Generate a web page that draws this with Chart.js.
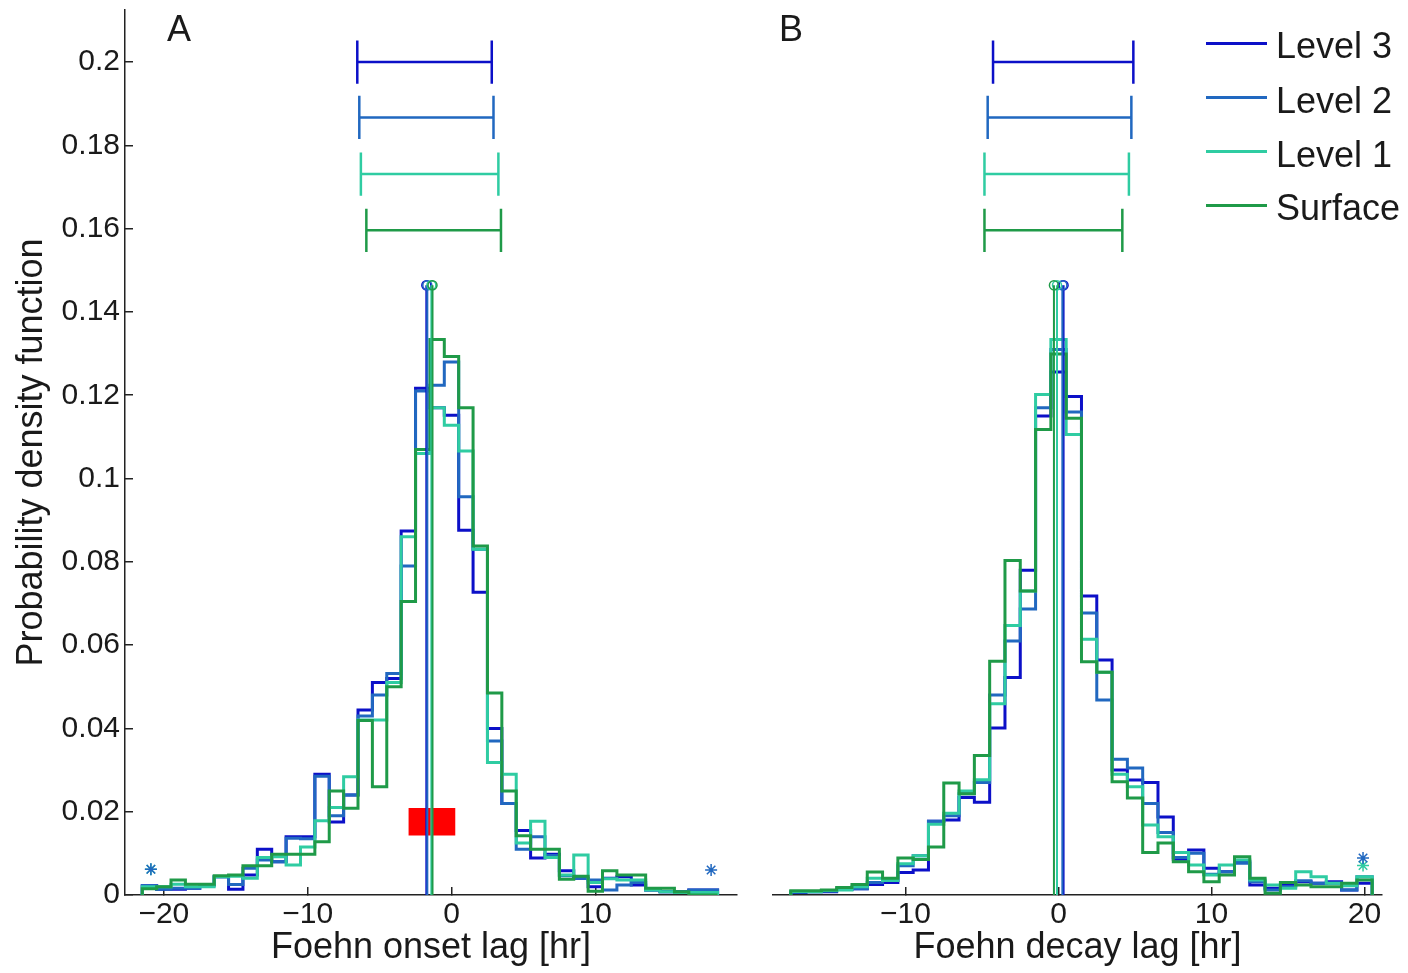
<!DOCTYPE html>
<html>
<head>
<meta charset="utf-8">
<script src="https://cdn.jsdelivr.net/npm/chart.js@4.4.1/dist/chart.umd.min.js"></script>
<style>
  html, body { margin: 0; padding: 0; background: #fff; }
  body {
    width: 1408px; height: 973px; position: relative; overflow: hidden;
    font-family: "Liberation Sans", Arial, Helvetica, sans-serif;
  }
  .panel { position: absolute; top: 0; height: 973px; }
  #panelA { left: 0; width: 760px; }
  #panelB { left: 760px; width: 648px; }
  #legend { position: absolute; left: 1206px; top: 0; }
  .legend-item {
    position: absolute; left: 0; height: 44px; display: flex; align-items: center;
    white-space: nowrap; font-size: 36px; color: #1a1a1a;
  }
  .legend-swatch { width: 61px; height: 3px; margin-right: 9px; }
  .legend-text { position: relative; top: 3px; }
</style>
</head>
<body>
<div class="panel" id="panelA"><canvas id="onsetChart"></canvas></div>
<div class="panel" id="panelB"><canvas id="decayChart"></canvas></div>
<div id="legend"></div>

<script>
/* ========= DATA ========= */
const SERIES = ["Level 3", "Level 2", "Level 1", "Surface"];
const COLORS = ["#0c10c8", "#2168c0", "#2fcca2", "#1f9a48"];
const BIN = 1;

// A: onset lag histogram (bin centres in hours)
const onsetCenters = [-21, -20, -19, -18, -17, -16, -15, -14, -13, -12, -11, -10, -9, -8, -7, -6, -5, -4, -3, -2,
  -1, 0, 1, 2, 3, 4, 5, 6, 7, 8, 9, 10, 11, 12, 13, 14, 15, 16, 17, 18];
const onsetL3 = [0.0022, 0.0014, 0.0014, 0.0016, 0.0024, 0.0044, 0.0014, 0.0048, 0.011, 0.008, 0.014, 0.014, 0.029, 0.0175, 0.024, 0.0444, 0.051, 0.052, 0.0874, 0.1217,
  0.117, 0.1152, 0.0876, 0.0727, 0.040, 0.022, 0.0155, 0.0089, 0.0098, 0.0058, 0.004, 0.002, 0.004, 0.0044, 0.0024, 0.0012, 0.0008, 0.0008, 0.0012, 0.0012];
const onsetL2 = [0.0022, 0.0014, 0.0016, 0.0016, 0.0024, 0.0044, 0.0025, 0.0064, 0.0084, 0.008, 0.0136, 0.0135, 0.0285, 0.019, 0.024, 0.043, 0.048, 0.0532, 0.079, 0.121,
  0.1224, 0.128, 0.0956, 0.083, 0.037, 0.022, 0.011, 0.014, 0.0095, 0.0046, 0.004, 0.0036, 0.0012, 0.0024, 0.003, 0.0012, 0.0008, 0.0008, 0.0012, 0.0012];
const onsetL1 = [0.002, 0.002, 0.0026, 0.002, 0.002, 0.0044, 0.0045, 0.004, 0.009, 0.0092, 0.0072, 0.0115, 0.0178, 0.021, 0.0284, 0.042, 0.042, 0.051, 0.086, 0.106,
  0.117, 0.1128, 0.1066, 0.083, 0.0318, 0.029, 0.0125, 0.0177, 0.009, 0.0048, 0.0096, 0.003, 0.0039, 0.0036, 0.0036, 0.0012, 0.0008, 0.0006, 0.0006, 0.0006];
const onsetSurface = [0.0015, 0.002, 0.0036, 0.0026, 0.0026, 0.0046, 0.0048, 0.007, 0.007, 0.0098, 0.0098, 0.0098, 0.0128, 0.025, 0.0208, 0.0419, 0.026, 0.050, 0.0705, 0.107,
  0.1334, 0.1293, 0.117, 0.0838, 0.0485, 0.025, 0.0142, 0.011, 0.011, 0.0038, 0.0045, 0.0009, 0.0058, 0.0048, 0.0048, 0.0016, 0.0016, 0.0008, 0, 0];

// B: decay lag histogram
const decayCenters = [-17, -16, -15, -14, -13, -12, -11, -10, -9, -8, -7, -6, -5, -4, -3, -2, -1, 0, 1,
  2, 3, 4, 5, 6, 7, 8, 9, 10, 11, 12, 13, 14, 15, 16, 17, 18, 19, 20];
const decayL3 = [0.0006, 0.0008, 0.0008, 0.0014, 0.0015, 0.0025, 0.003, 0.0054, 0.006, 0.0177, 0.018, 0.0234, 0.0223, 0.0401, 0.0522, 0.078, 0.115, 0.1256, 0.1197,
  0.0718, 0.0564, 0.030, 0.0276, 0.027, 0.0187, 0.0086, 0.0108, 0.0064, 0.0056, 0.008, 0.0024, 0.0016, 0.0024, 0.0032, 0.0028, 0.0032, 0.0012, 0.0028];
const decayL2 = [0.0008, 0.0008, 0.001, 0.0014, 0.0015, 0.003, 0.0035, 0.007, 0.0094, 0.0177, 0.019, 0.0243, 0.027, 0.048, 0.061, 0.0687, 0.117, 0.131, 0.116,
  0.0677, 0.0468, 0.0326, 0.0305, 0.022, 0.015, 0.009, 0.010, 0.005, 0.0056, 0.0076, 0.0032, 0.0012, 0.002, 0.0034, 0.0028, 0.0028, 0.0012, 0.0044];
const decayL1 = [0.0008, 0.0008, 0.001, 0.0012, 0.002, 0.004, 0.0035, 0.0075, 0.0094, 0.017, 0.0196, 0.025, 0.0277, 0.0459, 0.0647, 0.073, 0.1202, 0.1334, 0.1106,
  0.0614, 0.0535, 0.029, 0.026, 0.0168, 0.014, 0.0102, 0.0072, 0.0048, 0.0072, 0.0084, 0.0036, 0.0024, 0.0016, 0.0056, 0.0044, 0.0028, 0.0022, 0.0044];
const decaySurface = [0.001, 0.001, 0.0012, 0.0018, 0.0025, 0.0055, 0.004, 0.0089, 0.0085, 0.0115, 0.0269, 0.0243, 0.0335, 0.0561, 0.0803, 0.073, 0.1118, 0.1299, 0.1145,
  0.056, 0.0535, 0.0272, 0.0233, 0.0102, 0.0125, 0.008, 0.0056, 0.0032, 0.0048, 0.0092, 0.004, 0.0004, 0.003, 0.0024, 0.002, 0.002, 0.0028, 0.0036];

// medians (vertical lines with circle on top)
const onsetMedians = [-1.75, -1.68, -1.4, -1.32];
const decayMedians = [0.33, 0.25, -0.1, -0.3];
const MEDIAN_TOP = 0.1464;

// spread bars at the top
const barLevels = [0.2, 0.1867, 0.1731, 0.1596];
const BAR_CAP = 0.0052;
const onsetLow = [-6.55, -6.41, -6.3, -5.92];
const onsetHigh = [2.8, 2.92, 3.26, 3.44];
const decayLow = [-4.28, -4.63, -4.84, -4.84];
const decayHigh = [4.89, 4.76, 4.6, 4.17];

// outliers (asterisks)
const onsetStarX = [-20.9, -20.9, 18.05];
const onsetStarY = [0.0062, 0.0062, 0.006];
const onsetStarSeries = [1, 2, 1];
const decayStarX = [19.9, 19.9];
const decayStarY = [0.0089, 0.0071];
const decayStarSeries = [1, 2];

// red marker box in panel A
const markX = [-3.0, 0.28];
const markY = [0.0143, 0.0209];

// axes
const Y_MAX = 0.2125;
const onsetRange = [-22.7, 19.85];
const decayRange = [-18.66, 21.14];

const FONT = '"Liberation Sans", Arial, Helvetica, sans-serif';
const INK = "#1a1a1a";

/* ========= HELPERS ========= */
function stepPoints(centers, values) {
  const pts = [{ x: centers[0] - BIN / 2, y: 0 }];
  centers.forEach((c, i) => {
    pts.push({ x: c - BIN / 2, y: values[i] });
    pts.push({ x: c + BIN / 2, y: values[i] });
  });
  pts.push({ x: centers[centers.length - 1] + BIN / 2, y: 0 });
  return pts;
}

function barPoints(lo, hi, y) {
  return [
    { x: lo, y: y - BAR_CAP }, { x: lo, y: y + BAR_CAP }, { x: lo, y: null },
    { x: lo, y: y }, { x: hi, y: y }, { x: hi, y: null },
    { x: hi, y: y - BAR_CAP }, { x: hi, y: y + BAR_CAP }
  ];
}

function buildDatasets(p) {
  const ds = [];

  p.series.forEach((vals, s) => {
    ds.push({
      data: stepPoints(p.centers, vals),
      borderColor: COLORS[s], borderWidth: 3, pointRadius: 0,
      borderJoinStyle: "miter", order: 20 + (3 - s)
    });
  });

  p.low.forEach((lo, s) => {
    ds.push({
      data: barPoints(lo, p.high[s], barLevels[s]),
      borderColor: COLORS[s], borderWidth: 2.5, pointRadius: 0, order: 10 + s
    });
  });

  p.medians.forEach((m, s) => {
    ds.push({
      data: [{ x: m, y: 0 }, { x: m, y: MEDIAN_TOP }],
      borderColor: COLORS[s], borderWidth: 2,
      pointRadius: [0, 4.5], pointBorderWidth: 1.5,
      pointBorderColor: COLORS[s], pointBackgroundColor: "rgba(0,0,0,0)",
      order: 5 + (3 - s)
    });
  });

  p.starX.forEach((x, i) => {
    ds.push({
      data: [{ x: x, y: p.starY[i] }], showLine: false,
      pointStyle: "star", pointRadius: 6, pointBorderWidth: 1.5,
      pointBorderColor: COLORS[p.starSeries[i]], order: 1
    });
  });

  if (p.mark) {
    ds.push({
      data: [{ x: markX[0], y: markY[1] }, { x: markX[1], y: markY[1] }],
      borderWidth: 0, pointRadius: 0, backgroundColor: "#ff0000",
      fill: { value: markY[0] }, order: 30
    });
  }
  return ds;
}

const panelLetter = {
  id: "panelLetter",
  afterDraw(chart, args, opts) {
    const ctx = chart.ctx;
    ctx.save();
    ctx.font = `36px ${FONT}`;
    ctx.fillStyle = INK;
    ctx.textBaseline = "middle";
    ctx.fillText(opts.text, opts.x, opts.y);
    ctx.restore();
  }
};

const minus = v => (v < 0 ? "\u2212" + Math.abs(v) : String(v));

function makeChart(id, p) {
  return new Chart(document.getElementById(id), {
    type: "line",
    data: { datasets: buildDatasets(p) },
    plugins: [panelLetter],
    options: {
      responsive: true,
      maintainAspectRatio: false,
      animation: false,
      layout: { padding: p.padding },
      plugins: {
        legend: { display: false },
        tooltip: { enabled: false },
        panelLetter: p.letter
      },
      scales: {
        x: {
          type: "linear",
          min: p.range[0], max: p.range[1],
          afterFit: s => { s.height = 78; s.paddingLeft = 0; s.paddingRight = 0; },
          border: { color: "#222", width: 1.5 },
          grid: { drawOnChartArea: false, tickLength: -8, color: "#222", lineWidth: 1.5 },
          ticks: {
            stepSize: 10, includeBounds: false, padding: 10,
            maxRotation: 0, color: INK, font: { size: 30, family: FONT },
            callback: v => minus(v)
          },
          title: {
            display: true, text: p.xTitle, color: INK,
            font: { size: 36, family: FONT }, padding: { top: 0, bottom: 3 }
          }
        },
        y: {
          display: p.showY,
          min: 0, max: Y_MAX,
          afterFit: s => {
            s.width = p.showY ? 125 : 0;
            s.paddingTop = 0; s.paddingBottom = 0;
          },
          border: { color: "#222", width: 1.5 },
          grid: { drawOnChartArea: false, tickLength: -8, color: "#222", lineWidth: 1.5 },
          ticks: {
            stepSize: 0.02, includeBounds: false, padding: 13,
            color: INK, font: { size: 30, family: FONT },
            callback: v => (v === 0 ? "0" : String(+v.toFixed(2)))
          },
          title: {
            display: true, text: "Probability density function", color: INK,
            font: { size: 36, family: FONT }, padding: { top: 10, bottom: 0 }
          }
        }
      }
    }
  });
}

/* ========= RENDER ========= */
makeChart("onsetChart", {
  centers: onsetCenters,
  series: [onsetL3, onsetL2, onsetL1, onsetSurface],
  medians: onsetMedians, low: onsetLow, high: onsetHigh,
  starX: onsetStarX, starY: onsetStarY, starSeries: onsetStarSeries,
  mark: true, range: onsetRange, showY: true,
  xTitle: "Foehn onset lag [hr]",
  padding: { left: 0, right: 23, top: 10, bottom: 0 },
  letter: { text: "A", x: 167, y: 31 }
});

makeChart("decayChart", {
  centers: decayCenters,
  series: [decayL3, decayL2, decayL1, decaySurface],
  medians: decayMedians, low: decayLow, high: decayHigh,
  starX: decayStarX, starY: decayStarY, starSeries: decayStarSeries,
  mark: false, range: decayRange, showY: false,
  xTitle: "Foehn decay lag [hr]",
  padding: { left: 13, right: 26, top: 10, bottom: 0 },
  letter: { text: "B", x: 19, y: 31 }
});

/* ========= LEGEND ========= */
const legendTops = [43, 97.5, 151.5, 205];
const legend = document.getElementById("legend");
SERIES.forEach((name, i) => {
  legend.innerHTML += `
    <div class="legend-item" style="top:${legendTops[i] - 22}px">
      <div class="legend-swatch" style="background:${COLORS[i]}"></div>
      <span class="legend-text">${name}</span>
    </div>`;
});
</script>
</body>
</html>
